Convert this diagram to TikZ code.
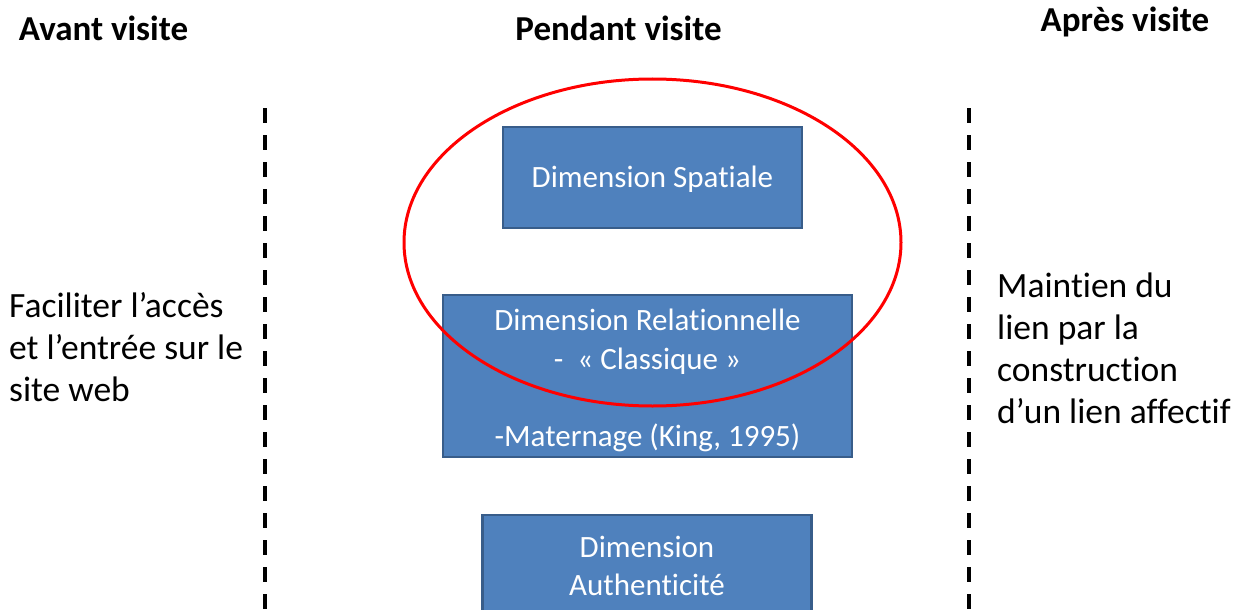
\documentclass[tikz,border=0pt]{standalone}
\usepackage{fontspec}
\setmainfont{Carlito}[Ligatures={NoCommon}]
\begin{document}
\begin{tikzpicture}[x=1pt,y=-1pt,
  heading/.style={font=\bfseries\fontsize{35}{40}\selectfont, inner sep=0pt},
  sidetext/.style={font=\fontsize{35.5}{41.8}\selectfont, align=left, anchor=west, inner sep=0pt},
  dimbox/.style={draw=boxedge, fill=boxfill, line width=2.2pt, inner sep=0pt},
  dimtext/.style={text=white, font=\fontsize{31}{38.5}\selectfont, align=center, inner sep=0pt},
  divider/.style={line width=3.6pt, dash pattern=on 15pt off 12pt},
  focus/.style={draw=red, line width=3pt}]
\definecolor{boxfill}{HTML}{4F81BD}
\definecolor{boxedge}{HTML}{385D8A}
\useasboundingbox (0,0) rectangle (1243,610);
\clip (0,0) rectangle (1243,610);

% column headings
\node[heading] (avant) at (103.5,28) {Avant visite};
\node[heading] (pendant) at (618.5,28) {Pendant visite};
\node[heading] (apres) at (1125,22) {Après visite};

% column separators
\coordinate (l1) at (265,108);
\coordinate (l2) at (265,620);
\coordinate (r1) at (969,108);
\coordinate (r2) at (969,620);
\draw[divider] (l1) -- (l2);
\draw[divider] (r1) -- (r2);

% side columns
\node[sidetext] (before) at (9,347) {Faciliter l’accès\\et l’entrée sur le\\site web};
\node[sidetext] (after) at (997,348.5) {Maintien du\\lien par la\\construction\\d’un lien affectif};

% dimensions during the visit
\node[dimbox, minimum width=299pt, minimum height=101pt] (spatial) at (652.5,177.5) {};
\node[dimtext] (spatialtext) at (652.5,179.5) {Dimension Spatiale};
\node[dimbox, minimum width=409pt, minimum height=162pt] (relation) at (647.5,376) {};
\node[dimtext] (reltext) at (647.5,380.5)
  {Dimension Relationnelle\\-~ « Classique »\\[38.5pt]-Maternage (King, 1995)};
\node[dimbox, minimum width=329pt, minimum height=140pt, anchor=north] (auth) at (647,514) {};
\node[dimtext] (authtext) at (647,566) {Dimension\\Authenticité};

% highlighted group
\draw[focus] (652.5,242.5) ellipse [x radius=248.5, y radius=163.5];
\end{tikzpicture}
\end{document}
